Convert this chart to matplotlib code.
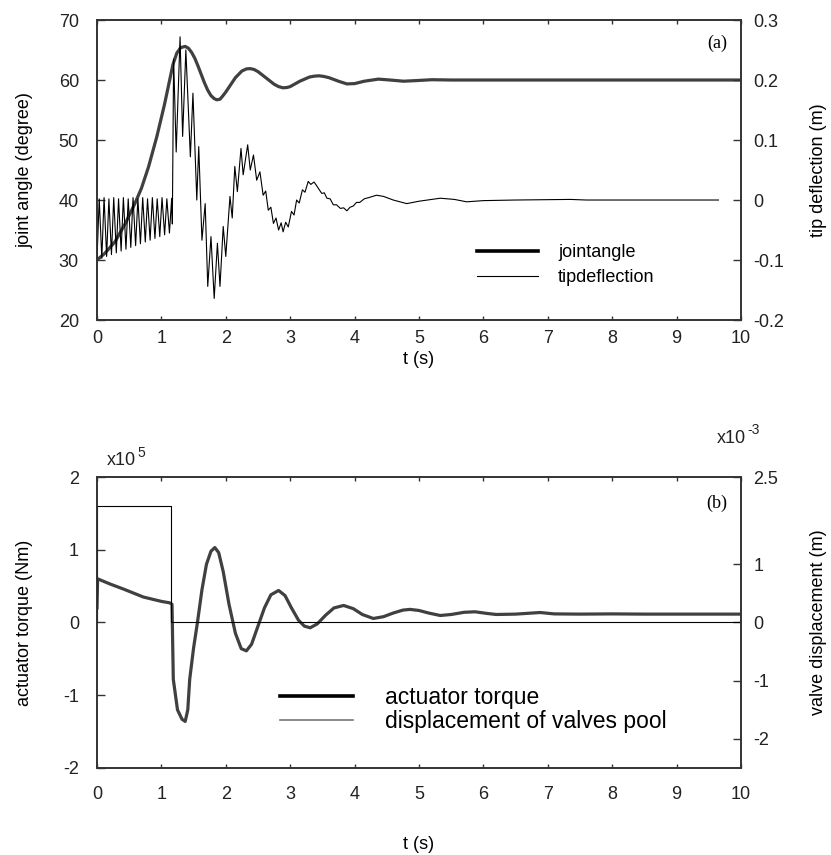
import matplotlib
matplotlib.use('Agg')
import matplotlib.pyplot as plt
from matplotlib.lines import Line2D

plt.rcParams['font.family'] = ['Liberation Sans', 'DejaVu Sans']
plt.rcParams['axes.unicode_minus'] = False

# ---- data ----
# joint angle (degree)
t_ang = [0, 0.12, 0.28, 0.44, 0.59, 0.69, 0.8, 0.93, 1.05, 1.18, 1.24, 1.3, 1.37, 1.42, 1.47,
         1.52, 1.57, 1.62, 1.67, 1.72, 1.77, 1.82, 1.86, 1.91, 1.95, 2.0, 2.05, 2.15, 2.25,
         2.32, 2.38, 2.44, 2.5, 2.62, 2.75, 2.82, 2.89, 2.95, 3.0, 3.15, 3.3, 3.38, 3.45,
         3.52, 3.6, 3.75, 3.88, 4.0, 4.15, 4.37, 4.55, 4.76, 4.95, 5.2, 5.5, 6.0, 7.0, 10.0]
ang = [30, 31.1, 33.05, 36.1, 39.45, 41.95, 45.5, 50.6, 56, 62.6, 64.5, 65.4, 65.6, 65.3, 64.6,
       63.6, 62.3, 60.9, 59.5, 58.3, 57.4, 56.9, 56.7, 56.8, 57.3, 58.0, 58.8, 60.4, 61.5,
       61.85, 61.9, 61.75, 61.4, 60.4, 59.3, 58.9, 58.7, 58.75, 58.9, 59.8, 60.5, 60.65, 60.7,
       60.6, 60.4, 59.8, 59.35, 59.4, 59.8, 60.15, 60.0, 59.8, 59.9, 60.05, 60.0, 60.0, 60.0, 60.0]

# tip deflection (m)
t_tip = [0.0, 0.035, 0.075, 0.11, 0.15, 0.185, 0.225, 0.26, 0.30, 0.335, 0.375, 0.41,
         0.45, 0.485, 0.525, 0.56, 0.60, 0.635, 0.675, 0.71, 0.75, 0.785, 0.825, 0.86,
         0.90, 0.935, 0.975, 1.01, 1.05, 1.085, 1.125, 1.16,
         1.17, 1.19, 1.23, 1.29, 1.33, 1.38, 1.45, 1.49, 1.55, 1.58, 1.63, 1.68, 1.72,
         1.77, 1.82, 1.87, 1.91, 1.96, 2.0, 2.065, 2.1, 2.14, 2.18, 2.236, 2.27, 2.34,
         2.38, 2.43, 2.48, 2.53, 2.58, 2.62, 2.66, 2.70, 2.74, 2.78, 2.82, 2.86, 2.89,
         2.93, 2.97, 3.02, 3.06, 3.10, 3.14, 3.19, 3.23, 3.28, 3.32, 3.37, 3.41, 3.44,
         3.49, 3.53, 3.57, 3.62, 3.67, 3.72, 3.78, 3.83, 3.88, 3.93, 3.98, 4.03, 4.08,
         4.15, 4.22, 4.34, 4.45, 4.6, 4.81, 5.0, 5.33, 5.55, 5.74, 6.0, 6.5, 7.35, 7.6, 9.65]
tip = [-0.100, 0.002, -0.097, 0.004, -0.094, 0.002, -0.091, 0.004, -0.088, 0.002, -0.085, 0.004,
       -0.082, 0.002, -0.079, 0.004, -0.076, 0.002, -0.073, 0.004, -0.070, 0.002, -0.067, 0.004,
       -0.064, 0.002, -0.061, 0.004, -0.058, 0.002, -0.055, 0.003,
       -0.04, 0.235, 0.08, 0.272, 0.106, 0.25, 0.072, 0.178, 0.0, 0.089, -0.067, -0.006, -0.144,
       -0.061, -0.164, -0.072, -0.144, -0.044, -0.094, 0.006, -0.03, 0.056, 0.014, 0.086, 0.042, 0.092,
       0.05, 0.075, 0.033, 0.047, 0.008, 0.015, -0.017, -0.012, -0.039, -0.030, -0.050, -0.038, -0.053,
       -0.037, -0.045, -0.019, -0.025, 0.0, -0.005, 0.017, 0.013, 0.031, 0.026, 0.030, 0.024, 0.019,
       0.011, 0.012, 0.003, 0.002, -0.008, -0.008, -0.014, -0.013, -0.018, -0.012, -0.010, -0.004, -0.004,
       0.002, 0.004, 0.008, 0.006, 0.0, -0.006, -0.002, 0.003, 0.001, -0.003, -0.001, 0.0, 0.001, 0.0, 0.0]

# actuator torque (x1e5 Nm)
t_trq = [0.0, 0.01, 0.2, 0.41, 0.72, 1.0, 1.13, 1.165, 1.185, 1.25, 1.32, 1.37, 1.41, 1.44,
         1.5, 1.56, 1.63, 1.7, 1.77, 1.83, 1.89, 1.96, 2.05, 2.15, 2.24, 2.32, 2.4, 2.5, 2.6,
         2.7, 2.82, 2.92, 3.02, 3.13, 3.22, 3.31, 3.42, 3.55, 3.68, 3.83, 3.98, 4.12, 4.29,
         4.45, 4.6, 4.75, 4.86, 5.0, 5.15, 5.33, 5.5, 5.7, 5.87, 6.05, 6.2, 6.5, 6.88, 7.1,
         7.5, 8.0, 8.5, 10.0]
trq = [0.2, 0.6, 0.53, 0.46, 0.35, 0.29, 0.27, 0.25, -0.78, -1.2, -1.33, -1.36, -1.2, -0.78,
       -0.35, 0.0, 0.45, 0.8, 0.98, 1.03, 0.96, 0.7, 0.25, -0.15, -0.36, -0.39, -0.3, -0.05, 0.2,
       0.38, 0.44, 0.37, 0.2, 0.03, -0.05, -0.073, -0.02, 0.1, 0.2, 0.234, 0.19, 0.11, 0.055,
       0.08, 0.13, 0.17, 0.18, 0.165, 0.13, 0.096, 0.11, 0.14, 0.147, 0.125, 0.11, 0.115, 0.137, 0.118,
       0.115, 0.118, 0.115, 0.115]

# displacement of valve spool (x1e-3 m)
t_vlv = [0.0, 0.0, 1.15, 1.15, 10.0]
vlv = [0.0, 2.0, 2.0, 0.0, 0.0]

x_ticks = [0, 1, 2, 3, 4, 5, 6, 7, 8, 9, 10]

thick = '#404040'
spine_c = '#333333'

fig = plt.figure(figsize=(8.31, 8.55), dpi=100)


def style(ax, xlen=3, ylen=6):
    for s in ax.spines.values():
        s.set_color(spine_c)
        s.set_linewidth(1.2)
    ax.tick_params(axis='x', direction='in', length=xlen, width=1, colors=spine_c,
                   labelcolor='#222222', labelsize=13)
    ax.tick_params(axis='y', direction='in', length=ylen, width=1, colors=spine_c,
                   labelcolor='#222222', labelsize=13)


# ---- panel (a) ----
ax1 = fig.add_axes([0.1167, 0.6257, 0.775, 0.3509])
ax1.plot(t_ang, ang, color=thick, lw=2.3)
ax1.set_xlim(0, 10)
ax1.set_ylim(20, 70)
ax1.set_xticks(x_ticks)
ax1.set_yticks([20, 30, 40, 50, 60, 70])
style(ax1)
ax1.tick_params(axis='x', top=True, pad=7)
ax1.tick_params(axis='y', right=True, pad=13)
ax1.set_xlabel('t (s)', fontsize=13, labelpad=3)
ax1.set_ylabel('joint angle (degree)', fontsize=13)
ax1.yaxis.set_label_coords(-0.099, 0.5)

ax2 = ax1.twinx()
ax2.plot(t_tip, tip, color='black', lw=0.8)
ax2.set_ylim(-0.2, 0.3)
ax2.set_yticks([-0.2, -0.1, 0, 0.1, 0.2, 0.3])
ax2.set_yticklabels(['-0.2', '-0.1', '0', '0.1', '0.2', '0.3'])
style(ax2)
ax2.tick_params(axis='y', pad=9)
ax2.set_ylabel('tip deflection (m)', fontsize=13)
ax2.yaxis.set_label_coords(1.107, 0.5)

ax1.text(0.978, 0.95, '(a)', transform=ax1.transAxes, ha='right', va='top',
         fontsize=13, family='Liberation Serif')

h1 = [Line2D([], [], color='black', lw=2.6), Line2D([], [], color='black', lw=0.8)]
ax2.legend(h1, ['jointangle', 'tipdeflection'], loc='upper left', bbox_to_anchor=(0.59, 0.253),
           frameon=False, fontsize=13, handlelength=3.4, handletextpad=1.1,
           labelspacing=0.45, borderpad=0, borderaxespad=0)

# ---- panel (b) ----
ax3 = fig.add_axes([0.1167, 0.1018, 0.775, 0.3403])
ax3.plot(t_trq, trq, color=thick, lw=2.3)
ax3.set_xlim(0, 10)
ax3.set_ylim(-2, 2)
ax3.set_xticks(x_ticks)
ax3.set_yticks([-2, -1, 0, 1, 2])
style(ax3)
ax3.tick_params(axis='x', top=True, pad=13)
ax3.tick_params(axis='y', right=True, pad=13)
ax3.set_xlabel('t (s)', fontsize=13, labelpad=24)
ax3.set_ylabel('actuator torque (Nm)', fontsize=13)
ax3.yaxis.set_label_coords(-0.099, 0.5)

ax4 = ax3.twinx()
ax4.plot(t_vlv, vlv, color='black', lw=0.8)
ax4.set_ylim(-2.5, 2.5)
ax4.set_yticks([-2, -1, 0, 1, 2.5])
ax4.set_yticklabels(['-2', '-1', '0', '1', '2.5'])
style(ax4)
ax4.tick_params(axis='y', pad=9)
ax4.set_ylabel('valve displacement (m)', fontsize=13)
ax4.yaxis.set_label_coords(1.107, 0.5)

ax3.text(0.978, 0.938, '(b)', transform=ax3.transAxes, ha='right', va='top',
         fontsize=13, family='Liberation Serif')

h2 = [Line2D([], [], color='black', lw=2.6), Line2D([], [], color='#777777', lw=1.2)]
ax4.legend(h2, ['actuator torque', 'displacement of valves pool'], loc='upper left',
           bbox_to_anchor=(0.284, 0.282), frameon=False, fontsize=16.5, handlelength=3.2,
           handletextpad=1.4, labelspacing=0.05, borderpad=0, borderaxespad=0)

# scale factors: base text plus small raised exponent (hyphen kept as in the source)
fig.text(0.129, 0.456, 'x10', fontsize=13, color='#222222')
fig.text(0.165, 0.466, '5', fontsize=10, color='#222222')
fig.text(0.863, 0.482, 'x10', fontsize=13, color='#222222')
fig.text(0.899, 0.492, '-3', fontsize=10, color='#222222')

fig.savefig('out.png', dpi=100)
